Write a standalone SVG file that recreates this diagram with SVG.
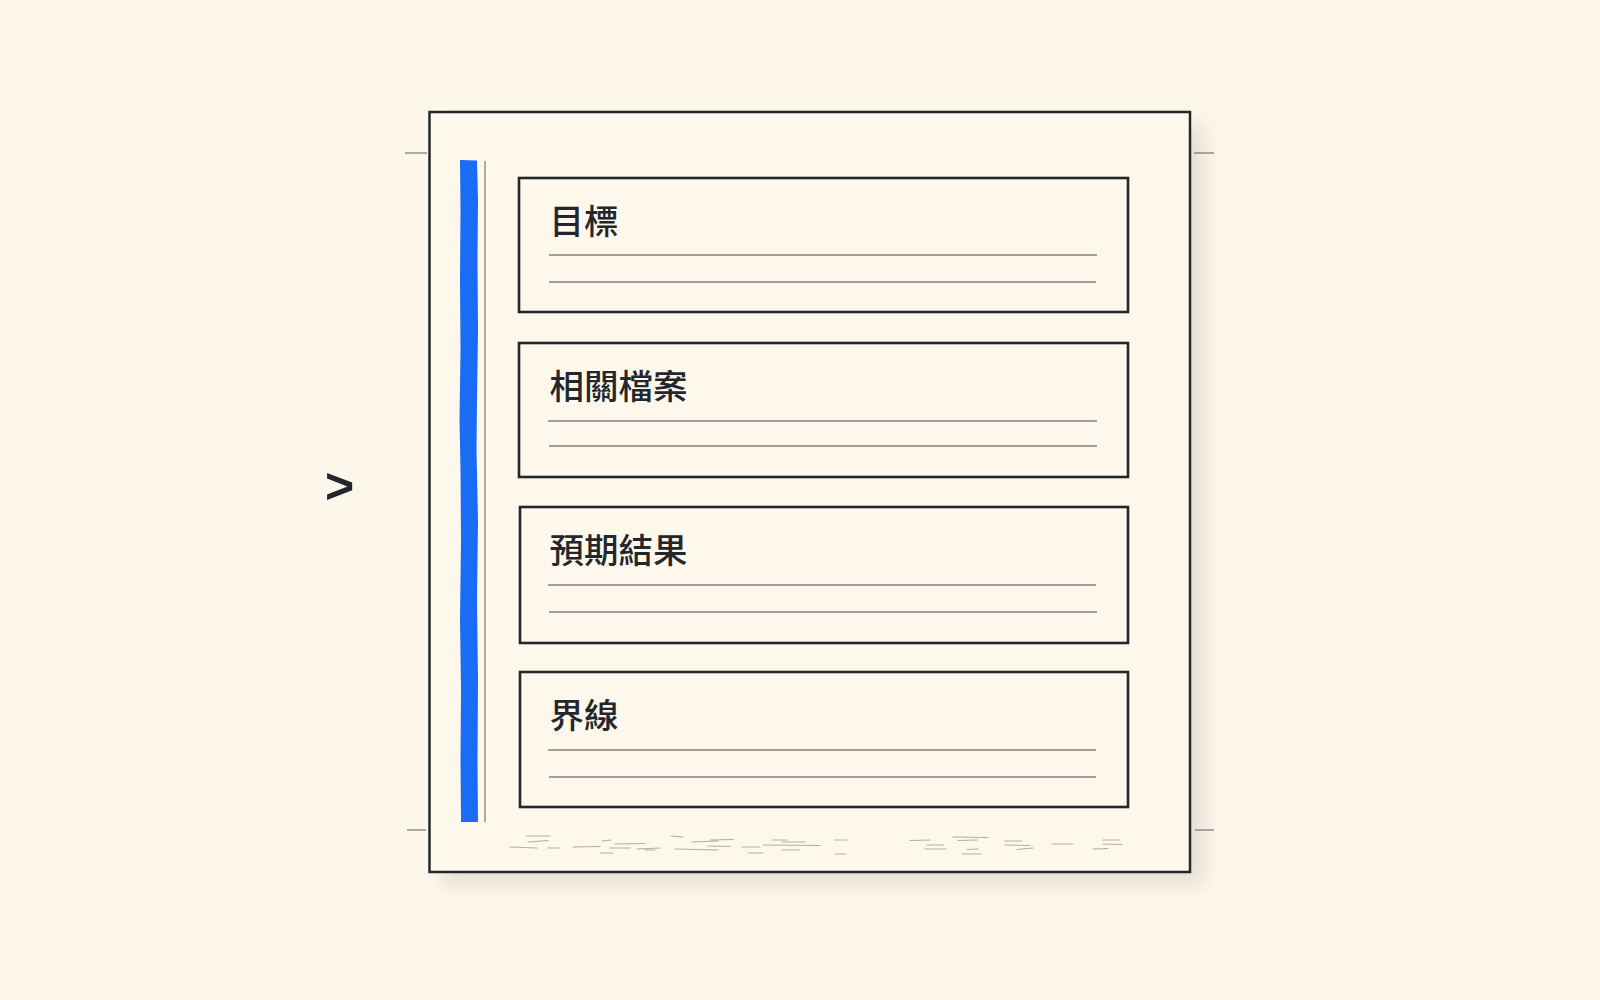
<svg xmlns="http://www.w3.org/2000/svg" width="1600" height="1000" viewBox="0 0 1600 1000">
  <defs>
    <filter id="shadow" x="-10%" y="-10%" width="130%" height="130%">
      <feGaussianBlur stdDeviation="9"/>
    </filter>
    <style>
      .frame { fill: #fef8ec; stroke: #23272c; stroke-width: 2.5; }
      .card { fill: #fef8ec; stroke: #23272c; stroke-width: 2.6; }
      .rule { stroke: #84827c; stroke-width: 1.3; fill: none; }
      .tick { stroke: #77756f; stroke-width: 1.2; }
      .title { font-family: "Noto Sans CJK TC", "Noto Sans CJK SC", sans-serif; font-size: 34.5px; font-weight: 500; fill: #23272c; }
      .scrib { stroke: #b0ada2; stroke-width: 1.1; fill: none; stroke-linecap: round; }
    </style>
  </defs>
  <rect width="1600" height="1000" fill="#fdf7eb"/>

  <g id="page">
    <rect x="442" y="124" width="762" height="762" fill="#000" opacity="0.09" filter="url(#shadow)"/>
    <rect class="frame" x="429.5" y="112" width="760.5" height="760"/>
    <line class="tick" x1="405" y1="153" x2="427" y2="153"/>
    <line class="tick" x1="1194" y1="153" x2="1214" y2="153"/>
    <line class="tick" x1="407" y1="830" x2="426" y2="830"/>
    <line class="tick" x1="1195" y1="830" x2="1214" y2="830"/>
  </g>

  <g id="sidebar">
    <path d="M460,160 L477,160.5 L478,200 L477.5,260 L478,330 L477,400 L476.5,450 L478,520 L477,600 L478,680 L477.5,760 L478,822 L461,822 L460.5,760 L461,690 L460,620 L461,540 L460.5,470 L459.5,420 L460.5,350 L460,280 L460.5,210 Z" fill="#1a6cf4"/>
    <line x1="485" y1="161" x2="485" y2="822" stroke="#8b8a85" stroke-width="1.4"/>
  </g>

  <g id="chevron">
    <text x="325" y="503" font-family="Liberation Sans, Arial, sans-serif" font-weight="bold" font-size="50" fill="#23272c">&gt;</text>
  </g>

  <g id="card-goal">
    <rect class="card" x="519" y="178" width="609" height="134"/>
    <text class="title" x="549.5" y="233.5">目標</text>
    <line class="rule" x1="549" y1="255" x2="1097" y2="255"/>
    <line class="rule" x1="549" y1="282" x2="1096" y2="282"/>
  </g>

  <g id="card-files">
    <rect class="card" x="519" y="343" width="609" height="134"/>
    <text class="title" x="549.5" y="398.5">相關檔案</text>
    <line class="rule" x1="548" y1="421" x2="1097" y2="421"/>
    <line class="rule" x1="549" y1="446" x2="1097" y2="446"/>
  </g>

  <g id="card-outcome">
    <rect class="card" x="520" y="507" width="608" height="136"/>
    <text class="title" x="549.5" y="562.5">預期結果</text>
    <line class="rule" x1="548" y1="585" x2="1096" y2="585"/>
    <line class="rule" x1="549" y1="612" x2="1097" y2="612"/>
  </g>

  <g id="card-boundary">
    <rect class="card" x="520" y="672" width="608" height="135"/>
    <text class="title" x="549.5" y="727.5">界線</text>
    <line class="rule" x1="548" y1="750" x2="1096" y2="750"/>
    <line class="rule" x1="549" y1="777" x2="1096" y2="777"/>
  </g>

  <g id="scribbles">
    <path class="scrib" d="M527,836 L550,836 M528,842 L548,840.5 M510,847 L537,848 M548,848 L560,848 M573,847 L600,846.5 M602,841 L611,840 M600,853 L613,853 M610,848 L630,848 M615,844 L645,843.5 M637,849 L660,848 M645,850 L655,850 M671,836 L683,837 M675,849 L718,850 M692,842 L718,841 M710,840 L733,839.5 M708,846 L730,846.5 M742,847 L760,847 M748,853 L763,853 M772,840 L787,840 M763,845 L820,845.5 M782,842 L805,842 M782,850 L800,850"/>
    <path class="scrib" d="M835,840 L847,840 M835,854 L846,854 M910,840.5 L930,840 M927,845 L944,845 M925,849 L946,849 M953,837 L988,837.5 M958,840.5 L977,840 M967,849.5 L978,849 M962,854 L981,854 M1005,841 L1022,841 M1005,845 L1030,845.5 M1017,849.5 L1033,848 M1052,844 L1073,844 M1103,840 L1120,840 M1103,844 L1122,844.5 M1093,849 L1108,848.5"/>
  </g>
</svg>
